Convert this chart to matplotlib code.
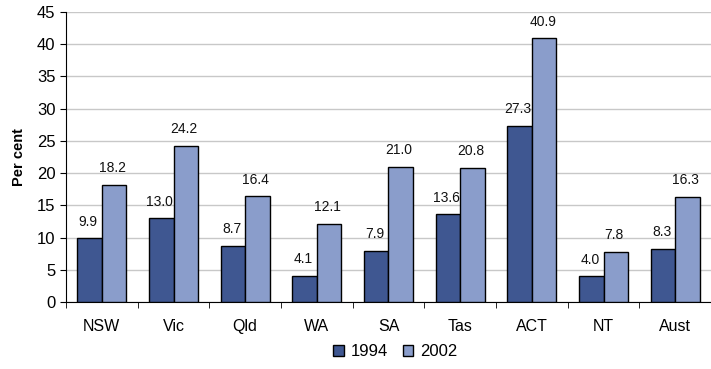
import matplotlib.pyplot as plt
import numpy as np

plt.rcParams['font.family'] = ['Liberation Sans', 'DejaVu Sans']

# Data
regions = ['NSW', 'Vic', 'Qld', 'WA', 'SA', 'Tas', 'ACT', 'NT', 'Aust']
vals_1994 = [9.9, 13.0, 8.7, 4.1, 7.9, 13.6, 27.3, 4.0, 8.3]
vals_2002 = [18.2, 24.2, 16.4, 12.1, 21.0, 20.8, 40.9, 7.8, 16.3]

c_dark = '#3F5791'
c_light = '#8A9DCB'

fig = plt.figure(figsize=(7.11, 3.69), dpi=100)
ax = fig.add_axes([66 / 711, 67 / 369, 645 / 711, 290 / 369])

x = np.arange(len(regions))
w = 0.34
b1 = ax.bar(x - w / 2, vals_1994, w, color=c_dark, edgecolor='black', linewidth=1.0, label='1994', zorder=3)
b2 = ax.bar(x + w / 2, vals_2002, w, color=c_light, edgecolor='black', linewidth=1.0, label='2002', zorder=3)

# value labels above the bars
for rect, v in zip(list(b1) + list(b2), vals_1994 + vals_2002):
    ax.text(rect.get_x() + rect.get_width() / 2 - 0.02, v + 1.5, f'{v:.1f}',
            ha='center', va='bottom', fontsize=10, color='#111111')

ax.set_ylim(0, 45)
ax.set_yticks(np.arange(0, 46, 5))
ax.set_xlim(-0.5, len(regions) - 0.5)
ax.set_xticks(x)
ax.set_xticklabels(regions)
ax.set_xticks(np.arange(-0.5, len(regions)), minor=True)
ax.tick_params(axis='x', which='major', length=0, pad=12, labelsize=11.5)
ax.tick_params(axis='x', which='minor', length=4, direction='out')
ax.tick_params(axis='y', length=4, labelsize=12)
ax.yaxis.grid(True, color='#C8C8C8', linewidth=1.0, zorder=0)
for s in ['top', 'right']:
    ax.spines[s].set_visible(False)
ax.set_ylabel('Per cent', fontsize=10.5, fontweight='bold', labelpad=8)

fig.legend(handles=[b1, b2], labels=['1994', '2002'], loc='center',
           bbox_to_anchor=(395 / 711, 1 - 352 / 369), ncol=2, frameon=False,
           fontsize=12, handlelength=0.65, handleheight=0.65, handletextpad=0.4,
           columnspacing=0.9)

fig.savefig('out.png', dpi=100)
